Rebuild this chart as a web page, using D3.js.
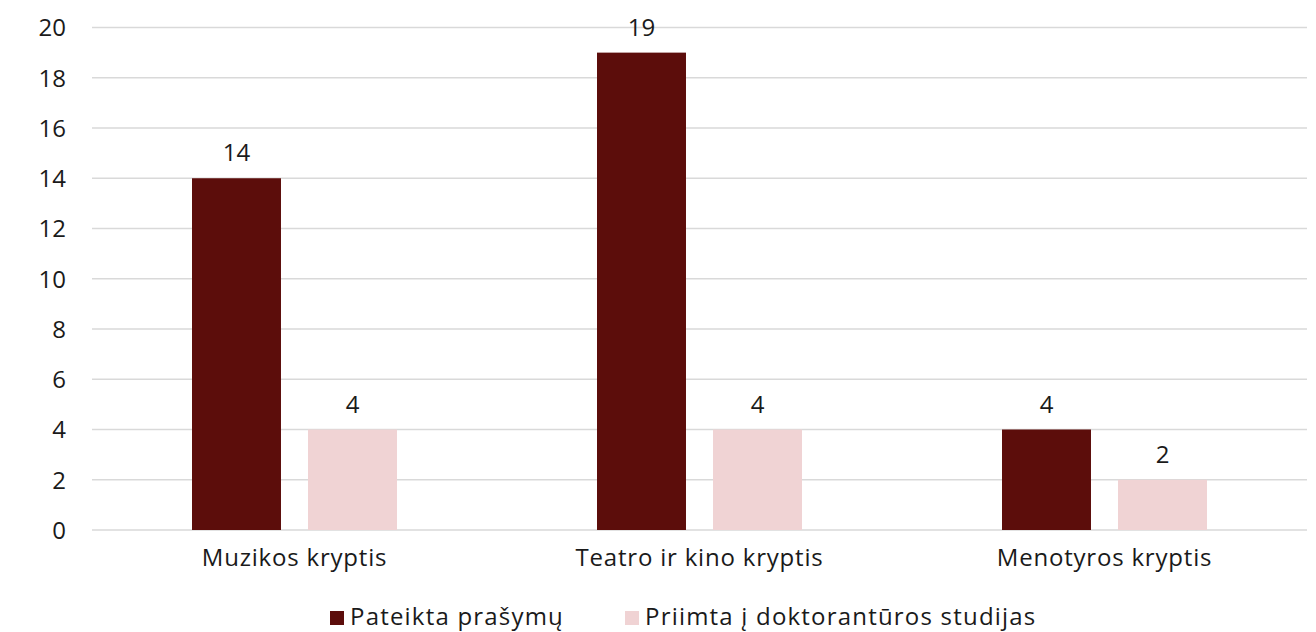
<!DOCTYPE html>
<html><head><meta charset="utf-8">
<script src="https://cdn.jsdelivr.net/npm/d3@7"></script>
<style>
html,body{margin:0;padding:0;background:#fff;}
svg text{font-family:"Open Sans","Noto Sans",sans-serif;fill:#1a1a1a;}
</style></head>
<body><svg id="chart" width="1316" height="632"></svg>
<script>
const categories = ["Muzikos kryptis", "Teatro ir kino kryptis", "Menotyros kryptis"];
const seriesNames = ["Pateikta prašymų", "Priimta į doktorantūros studijas"];
const pateikta = [14, 19, 4];
const priimta = [4, 4, 2];
const yTicks = [0, 2, 4, 6, 8, 10, 12, 14, 16, 18, 20];
const colors = ["#5c0d0b", "#f0d3d4"];

const svg = d3.select("#chart");
const m = {left: 92, right: 9, top: 27.5, bottom: 102};
const W = 1316, H = 632;
const x = d3.scaleBand().domain(categories).range([m.left, W - m.right]).paddingInner(0).paddingOuter(0);
const xs = d3.scaleBand().domain([0, 1]).range([0, x.bandwidth()]).paddingInner(0.233).paddingOuter(0.862);
const y = d3.scaleLinear().domain([0, 20]).range([H - m.bottom, m.top]);

svg.append("g").selectAll("line").data(yTicks).join("line")
  .attr("x1", m.left).attr("x2", W - m.right)
  .attr("y1", d => y(d)).attr("y2", d => y(d))
  .attr("stroke", "#d9d9d9").attr("stroke-width", 1.5);

const yAxis = d3.axisLeft(y).tickValues(yTicks).tickSize(0).tickPadding(26);
const gy = svg.append("g").attr("transform", `translate(${m.left},0)`).call(yAxis);
gy.select(".domain").remove();
gy.selectAll("text").style("font-size", "24px").attr("dy", "0.35em");

const series = [pateikta, priimta];
const data = [];
categories.forEach((c, i) => series.forEach((s, j) => data.push({c, j, v: s[i]})));

svg.append("g").selectAll("rect").data(data).join("rect")
  .attr("x", d => x(d.c) + xs(d.j))
  .attr("width", xs.bandwidth())
  .attr("y", d => y(d.v))
  .attr("height", d => y(0) - y(d.v))
  .attr("fill", d => colors[d.j]);

svg.append("g").selectAll("text").data(data).join("text")
  .attr("x", d => x(d.c) + xs(d.j) + xs.bandwidth() / 2)
  .attr("y", d => y(d.v) - 17)
  .attr("text-anchor", "middle")
  .style("font-size", "24px")
  .text(d => d.v);

const xAxis = d3.axisBottom(x).tickSize(0).tickPadding(19);
const gx = svg.append("g").attr("transform", `translate(0,${y(0)})`).call(xAxis);
gx.select(".domain").remove();
gx.selectAll("text").style("font-size", "24px").style("letter-spacing", "0.8px");

const legX = [330, 625];
const lg = svg.append("g").selectAll("g").data(seriesNames).join("g")
  .attr("transform", (d, i) => `translate(${legX[i]},611)`);
lg.append("rect").attr("width", 14).attr("height", 14).attr("fill", (d, i) => colors[i]);
lg.append("text").attr("x", 20).attr("y", 14).style("font-size", "24px").style("letter-spacing", "1.2px").text(d => d);
</script></body></html>
